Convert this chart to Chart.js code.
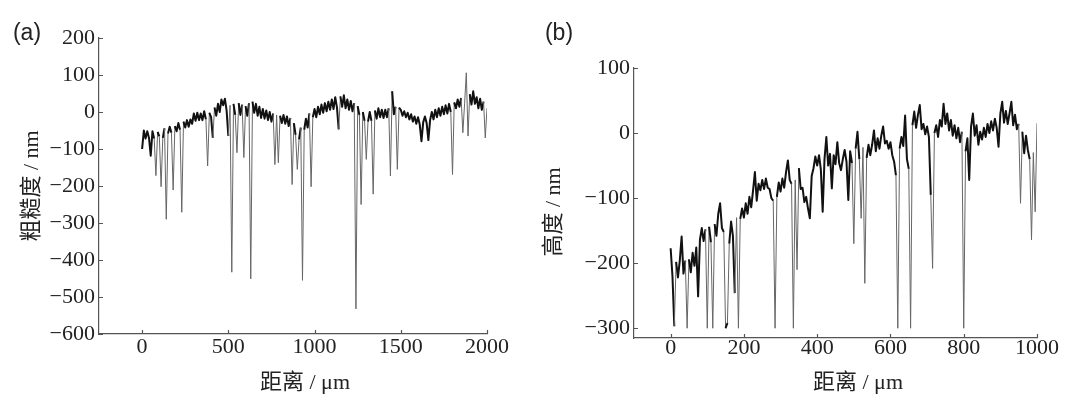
<!DOCTYPE html>
<html>
<head>
<meta charset="utf-8">
<script src="https://cdn.jsdelivr.net/npm/chart.js@4.4.0/dist/chart.umd.min.js"></script>
<style>
html, body { margin: 0; padding: 0; background: #fff; }
body { width: 1080px; height: 399px; position: relative; overflow: hidden; }
.panel { position: absolute; top: 0; }
#boxA { left: 0; }
#boxB { left: 530px; }
</style>
</head>
<body>
<div class="panel" id="boxA"><canvas id="chartA" width="520" height="399"></canvas></div>
<div class="panel" id="boxB"><canvas id="chartB" width="550" height="399"></canvas></div>
<script>
// (a) roughness profile, one value every 10 um from 0 to 2000 um (nm)
const stepA = 10;
const roughnessA = [
    -100, -50, -72, -52, -70, -118, -52, -72, -172, -54,
    -66, -202, -70, -44, -290, -58, -40, -56, -211, -38,
    -52, -30, -48, -271, -26, -42, -22, -40, -20, -32,
    -4, -24, -2, -22, -4, -22, 2, -20, -146, -2,
    -14, -70, 12, -10, 22, 0, 34, 18, 36, 4,
    -65, 18, -433, 22, -8, -110, 24, -8, 20, -123,
    16, -10, 24, -451, 28, -2, 22, -10, 14, -16,
    8, -18, 4, -22, 0, -26, -4, -142, -8, -137,
    -10, -30, -8, -32, -12, -38, -16, -196, -30, -62,
    -155, -74, -42, -455, -48, -18, -42, -4, -202, -14,
    8, -14, 14, -6, 20, -2, 24, 2, 28, 6,
    34, 8, 40, 12, -47, 42, 14, 45, 10, 34,
    6, 30, 2, 24, -532, 16, -8, -250, 0, -24,
    -128, -26, 0, -24, -222, 4, -18, 10, -14, 6,
    -16, 6, -14, 10, -173, 56, -6, 14, -155, 12,
    6, -10, 2, -14, -2, -20, -6, -26, -12, -32,
    -14, -34, -79, -28, -12, -30, -76, -22, 0, -20,
    6, -14, 10, -10, 14, -6, 18, -4, 22, 0,
    -169, 26, 10, 34, 14, 38, -56, 22, 106, -65,
    48, 20, 56, 22, 40, 10, 36, 6, 28, -70,
    10
];
const xTicksA = [0, 500, 1000, 1500, 2000];
const yTicksA = [-600, -500, -400, -300, -200, -100, 0, 100, 200];

// (b) height profile, one value every 5 um from 0 to 1000 um (nm)
const stepB = 5;
const heightB = [
    -177, -220, -297, -198, -222, -196, -159, -216, -196, -300,
    -194, -214, -184, -204, -176, -251, -164, -146, -166, -148,
    -300, -144, -168, -300, -140, -158, -124, -108, -146, -152,
    -300, -292, -170, -136, -158, -246, -130, -300, -132, -116,
    -130, -108, -124, -98, -114, -88, -60, -104, -78, -88,
    -72, -86, -70, -84, -86, -100, -104, -300, -98, -76,
    -90, -70, -84, -60, -42, -72, -78, -300, -72, -210,
    -54, -86, -84, -106, -98, -116, -131, -66, -54, -36,
    -50, -34, -56, -121, -40, -6, -50, -32, -85, -34,
    -48, -14, -46, -57, -40, -26, -44, -103, -28, -46,
    -170, -24, 2, -40, -131, -22, -231, -38, -18, -34,
    -18, 4, -28, -8, -24, -4, 10, -16, -12, -24,
    -14, -34, -44, -65, -300, -24, -6, -20, 27, -40,
    -55, -300, 12, 33, 8, 28, 43, 6, 14, -2,
    10, -6, -95, -208, 0, 12, -6, 20, 10, 45,
    14, 30, 4, 20, -4, 12, -8, 8, -14, 2,
    -300, -28, -8, -72, 10, 30, -4, 12, -18, 2,
    -10, 8, -6, 14, 0, 18, 4, 22, 8, -21,
    30, 48, 16, 34, 14, 30, 48, 12, 28, 6,
    14, -108, 2, -31, -4, -26, -40, -164, -30, -121,
    15
];
const xTicksB = [0, 200, 400, 600, 800, 1000];
const yTicksB = [-300, -200, -100, 0, 100];

const AXIS_COLOR = '#555';
const TEXT_COLOR = '#222';
const TICK_FONT = { family: '"Liberation Serif", "Times New Roman", serif', size: 22 };
const TITLE_FONT = '22px "Liberation Serif", "Noto Sans CJK SC", serif';
const TAG_FONT = '23px "Liberation Sans", Arial, sans-serif';

function minus(v) {
    return String(v).replace('-', '\u2212');
}

// inward tick marks + axis titles + panel tag
function framePlugin(texts) {
    return {
        id: 'frame',
        afterDraw(chart) {
            const { ctx, chartArea: a, scales: { x, y } } = chart;
            ctx.save();
            ctx.strokeStyle = AXIS_COLOR;
            ctx.lineWidth = 1.2;
            ctx.beginPath();
            x.ticks.forEach(t => {
                const px = Math.round(x.getPixelForValue(t.value)) + 0.5;
                ctx.moveTo(px, a.bottom);
                ctx.lineTo(px, a.bottom - 4);
            });
            y.ticks.forEach(t => {
                const py = Math.round(y.getPixelForValue(t.value)) + 0.5;
                ctx.moveTo(a.left, py);
                ctx.lineTo(a.left + 4, py);
            });
            ctx.stroke();

            ctx.fillStyle = TEXT_COLOR;
            ctx.textAlign = 'center';
            ctx.textBaseline = 'middle';
            texts.forEach(t => {
                ctx.save();
                ctx.font = t.font;
                ctx.translate(t.x, t.y);
                if (t.rot) ctx.rotate(t.rot);
                ctx.fillText(t.text, 0, 0);
                ctx.restore();
            });
            ctx.restore();
        }
    };
}

function makeChart(id, step, values, xTicks, yTicks, box, texts, gap) {
    const points = values.map((v, i) => ({ x: i * step, y: v }));
    const deep = c => Math.abs(c.p0.parsed.y - c.p1.parsed.y) > gap;
    return new Chart(document.getElementById(id), {
        type: 'line',
        data: {
            datasets: [{
                data: points,
                borderColor: '#111',
                borderWidth: 2,
                borderJoinStyle: 'round',
                pointRadius: 0,
                tension: 0,
                segment: {
                    borderColor: c => deep(c) ? '#666' : '#111',
                    borderWidth: c => deep(c) ? 1 : 2
                }
            }]
        },
        options: {
            responsive: false,
            animation: false,
            layout: { padding: { top: box.top, right: box.right, left: 0, bottom: 0 } },
            plugins: { legend: { display: false }, tooltip: { enabled: false } },
            scales: {
                x: {
                    type: 'linear',
                    min: box.xmin, max: box.xmax,
                    afterBuildTicks: s => { s.ticks = xTicks.map(v => ({ value: v })); },
                    afterFit: s => { s.height = box.xh; },
                    grid: { display: false, drawTicks: false },
                    border: { display: true, color: AXIS_COLOR, width: 1.2 },
                    ticks: { color: TEXT_COLOR, font: TICK_FONT, padding: box.xpad, maxRotation: 0, callback: minus }
                },
                y: {
                    type: 'linear',
                    min: box.ymin, max: box.ymax,
                    afterBuildTicks: s => { s.ticks = yTicks.map(v => ({ value: v })); },
                    afterFit: s => { s.width = box.yw; },
                    grid: { display: false, drawTicks: false },
                    border: { display: true, color: AXIS_COLOR, width: 1.2 },
                    ticks: { color: TEXT_COLOR, font: TICK_FONT, padding: 4, callback: minus }
                }
            }
        },
        plugins: [framePlugin(texts)]
    });
}

makeChart('chartA', stepA, roughnessA, xTicksA, yTicksA,
    { top: 38, right: 33, xh: 65, yw: 99, xmin: -250, xmax: 2000, ymin: -600, ymax: 200, xpad: 0 },
    [
        { text: '(a)', x: 27, y: 34, font: TAG_FONT },
        { text: '距离 / μm', x: 305, y: 383, font: TITLE_FONT },
        { text: '粗糙度 / nm', x: 32, y: 186, rot: -Math.PI / 2, font: TITLE_FONT }
    ], 70);

makeChart('chartB', stepB, heightB, xTicksB, yTicksB,
    { top: 68, right: 43, xh: 61, yw: 104, xmin: -100, xmax: 1000, ymin: -315, ymax: 100, xpad: -3 },
    [
        { text: '(b)', x: 29, y: 34, font: TAG_FONT },
        { text: '距离 / μm', x: 328, y: 383, font: TITLE_FONT },
        { text: '高度 / nm', x: 24, y: 212, rot: -Math.PI / 2, font: TITLE_FONT }
    ], 90);
</script>
</body>
</html>
